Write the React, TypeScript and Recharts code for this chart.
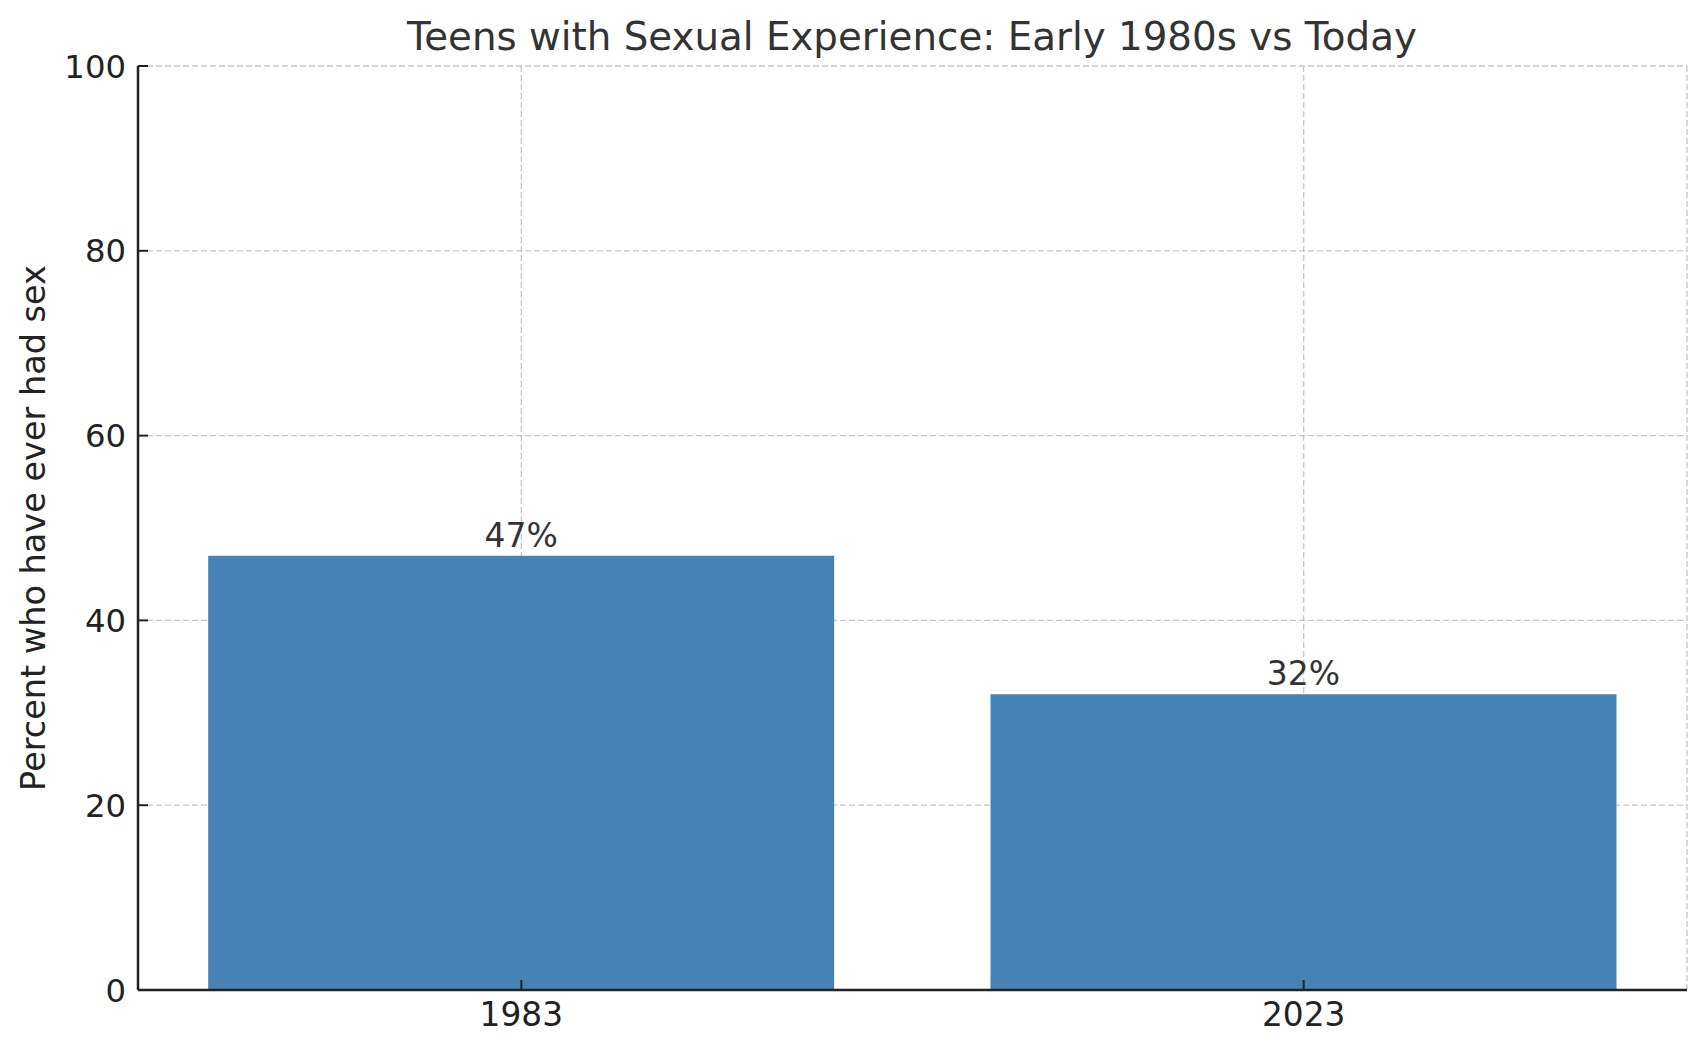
import React from "react";
import { BarChart, Bar, XAxis, YAxis, CartesianGrid, LabelList } from "recharts";

const categories = ["1983", "2023"];
const percentValues = [47, 32];
const yTicks = [0, 20, 40, 60, 80, 100];
const chartTitle = "Teens with Sexual Experience: Early 1980s vs Today";
const yAxisTitle = "Percent who have ever had sex";

const data = categories.map((c, i) => ({ idx: i, label: c, value: percentValues[i] }));

const FONT = "'DejaVu Sans', sans-serif";
const W = 1707;
const H = 1053;

const YTick = (props: any) => {
  const { x, y, payload } = props;
  return (
    <g>
      <line x1={x} x2={x + 10} y1={y} y2={y} stroke="#222" strokeWidth={2} />
      <text x={x - 12} y={y + 11.5} textAnchor="end" fontSize={32.3} fontFamily={FONT} fill="#222">
        {payload.value}
      </text>
    </g>
  );
};

const XTick = (props: any) => {
  const { x, y, payload } = props;
  return (
    <g>
      <line x1={x} x2={x} y1={y} y2={y - 10} stroke="#222" strokeWidth={2} />
      <text x={x} y={y + 36} textAnchor="middle" fontSize={32.8} fontFamily={FONT} fill="#222">
        {categories[payload.value]}
      </text>
    </g>
  );
};

const YLabel = (props: any) => {
  const vb = props.viewBox || {};
  const cy = (vb.y ?? 66) + (vb.height ?? 924) / 2;
  const cx = 33;
  return (
    <text
      x={cx}
      y={cy}
      transform={`rotate(-90, ${cx}, ${cy})`}
      textAnchor="middle"
      dominantBaseline="central"
      fontSize={33.5}
      fontFamily={FONT}
      fill="#222"
    >
      {yAxisTitle}
    </text>
  );
};

export default function App() {
  return (
    <div style={{ position: "absolute", left: 0, top: 0, width: W, height: H, background: "#fff" }}>
      <BarChart width={W} height={H} data={data} margin={{ top: 66, right: 20, left: 0, bottom: 0 }}>
        <XAxis
          dataKey="idx"
          type="number"
          domain={[-0.49, 1.49]}
          ticks={[0, 1]}
          allowDataOverflow
          height={63}
          tickSize={0}
          tickMargin={0}
          tickLine={false}
          axisLine={{ stroke: "#222", strokeWidth: 2.5 }}
          tick={<XTick />}
        />
        <YAxis
          type="number"
          domain={[0, 100]}
          ticks={yTicks}
          width={138}
          tickSize={0}
          tickMargin={0}
          tickLine={false}
          axisLine={{ stroke: "#222", strokeWidth: 2.5 }}
          tick={<YTick />}
          label={<YLabel />}
        />
        <Bar dataKey="value" fill="#4682B4" barSize={626} isAnimationActive={false}>
          <LabelList
            dataKey="value"
            position="top"
            offset={9}
            formatter={(v: any) => `${v}%`}
            style={{ fontSize: 33, fontFamily: FONT, fill: "#333" }}
          />
        </Bar>
        <CartesianGrid stroke="#b8b8b8" strokeOpacity={0.8} strokeDasharray="6 3" strokeWidth={1.3} />
      </BarChart>
      <svg width={W} height={90} style={{ position: "absolute", left: 0, top: 0, pointerEvents: "none" }}>
        <text x={912} y={50} textAnchor="middle" fontSize={38.8} fontFamily={FONT} fill="#333">
          {chartTitle}
        </text>
      </svg>
    </div>
  );
}
